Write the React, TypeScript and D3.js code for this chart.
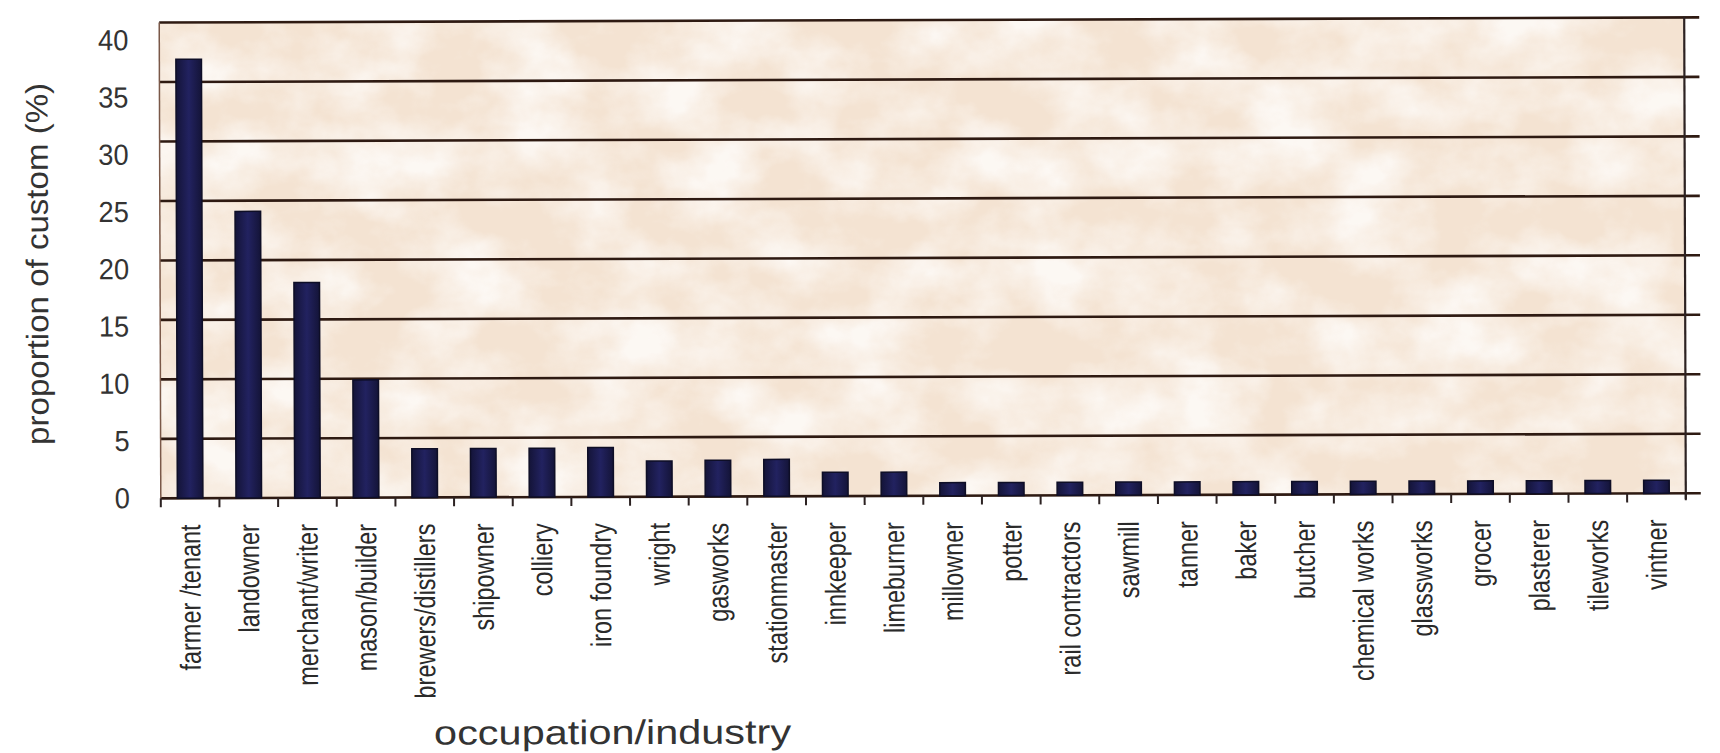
import React from "react";
import * as d3 from "d3";

const categories = [
  "farmer /tenant", "landowner", "merchant/writer", "mason/builder", "brewers/distillers",
  "shipowner", "colliery", "iron foundry", "wright", "gasworks", "stationmaster",
  "innkeeper", "limeburner", "millowner", "potter", "rail contractors", "sawmill",
  "tanner", "baker", "butcher", "chemical works", "glassworks", "grocer", "plasterer",
  "tileworks", "vintner",
];
const values = [
  36.9, 24.1, 18.1, 9.9, 4.1, 4.1, 4.1, 4.15, 3.0, 3.05, 3.1, 2.0, 2.0,
  1.1, 1.1, 1.1, 1.1, 1.1, 1.1, 1.1, 1.1, 1.1, 1.1, 1.1, 1.1, 1.1,
];
const yTicks = [0, 5, 10, 15, 20, 25, 30, 35, 40];
const yTitle = "proportion of custom (%)";
const xTitle = "occupation/industry";

export default function App() {
  const W = 1720, H = 753;
  const left = 160, right = 1685, top = 20, bottom = 495.8;
  const x = d3.scaleBand<string>().domain(categories).range([left, right]).paddingInner(0.564).paddingOuter(0.282);
  const xc = d3.scaleBand<string>().domain(categories).range([left, right]).padding(0);
  const y = d3.scaleLinear().domain([0, 40]).range([bottom, top]);
  const yl = d3.scaleLinear().domain([0, 40]).range([495, 37]);
  const font = "'Liberation Sans', Arial, Helvetica, sans-serif";
  const grid = "#2e1a12";

  return (
    <svg width={W} height={H} viewBox={`0 0 ${W} ${H}`} style={{ position: "absolute", left: 0, top: 0, background: "#fff" }}>
      <defs>
        <filter id="paper" x="0" y="0" width="100%" height="100%">
          <feTurbulence type="fractalNoise" baseFrequency="0.012 0.016" numOctaves="5" seed="11" result="n" />
          <feColorMatrix in="n" type="matrix" values="0 0 0 0 1  0 0 0 0 1  0 0 0 0 1  0 0 0 2.2 -0.75" />
        </filter>
        <linearGradient id="barg" x1="0" x2="1" y1="0" y2="0">
          <stop offset="0" stopColor="#141438" />
          <stop offset="0.5" stopColor="#222260" />
          <stop offset="1" stopColor="#141438" />
        </linearGradient>
      </defs>
      <g transform={`rotate(-0.19, ${(left + right) / 2}, ${(top + bottom) / 2})`}>
        {/* plot background */}
        <rect x={left} y={top} width={right - left} height={bottom - top} fill="#f4e3d2" />
        <rect x={left} y={top} width={right - left} height={bottom - top} fill="#fff" filter="url(#paper)" opacity={0.75} />
        {/* gridlines */}
        {yTicks.map((t) => (
          <line key={t} x1={left} x2={right + 15} y1={y(t)} y2={y(t)} stroke={grid} strokeWidth={2.6} />
        ))}
        {/* borders */}
        <line x1={left} x2={left} y1={top} y2={bottom} stroke="#7a5848" strokeWidth={1.5} />
        <line x1={right} x2={right} y1={top - 1} y2={bottom + 6} stroke="#2c2222" strokeWidth={2.2} />
        {/* x ticks */}
        {categories.map((c) => (
          <line key={c} x1={xc(c)!} x2={xc(c)!} y1={bottom} y2={bottom + 9} stroke="#2c2222" strokeWidth={2} />
        ))}
        <line x1={right} x2={right} y1={bottom} y2={bottom + 7} stroke="#2c2222" strokeWidth={2} />
        {/* bars */}
        {categories.map((c, i) => (
          <rect key={c} x={x(c)!} y={y(values[i])} width={x.bandwidth()} height={bottom - y(values[i])}
            fill="url(#barg)" stroke="#0e0e26" strokeWidth={1.5} />
        ))}
        {/* y tick labels */}
        {yTicks.map((t) => (
          <text key={t} transform={`translate(129,${yl(t)}) scale(0.94,1)`} dy="0.36em" textAnchor="end" fontFamily={font} fontSize={29} fill="#333">
            {t}
          </text>
        ))}
        {/* x labels */}
        {categories.map((c) => {
          const cx = xc(c)! + xc.bandwidth() / 2 + 10;
          return (
            <text key={c} transform={`translate(${cx},522) rotate(-90) scale(0.81,1)`} textAnchor="end" fontFamily={font} fontSize={29} fill="#2a2a2a">
              {c}
            </text>
          );
        })}
        {/* axis titles */}
        <text transform={`translate(48,261) rotate(-90)`} textAnchor="middle" fontFamily={font} fontSize={31}
          fill="#333" textLength={362} lengthAdjust="spacingAndGlyphs">
          {yTitle}
        </text>
        <text x={611} y={743} textAnchor="middle" fontFamily={font} fontSize={34} fill="#333"
          textLength={357} lengthAdjust="spacingAndGlyphs">
          {xTitle}
        </text>
      </g>
    </svg>
  );
}
